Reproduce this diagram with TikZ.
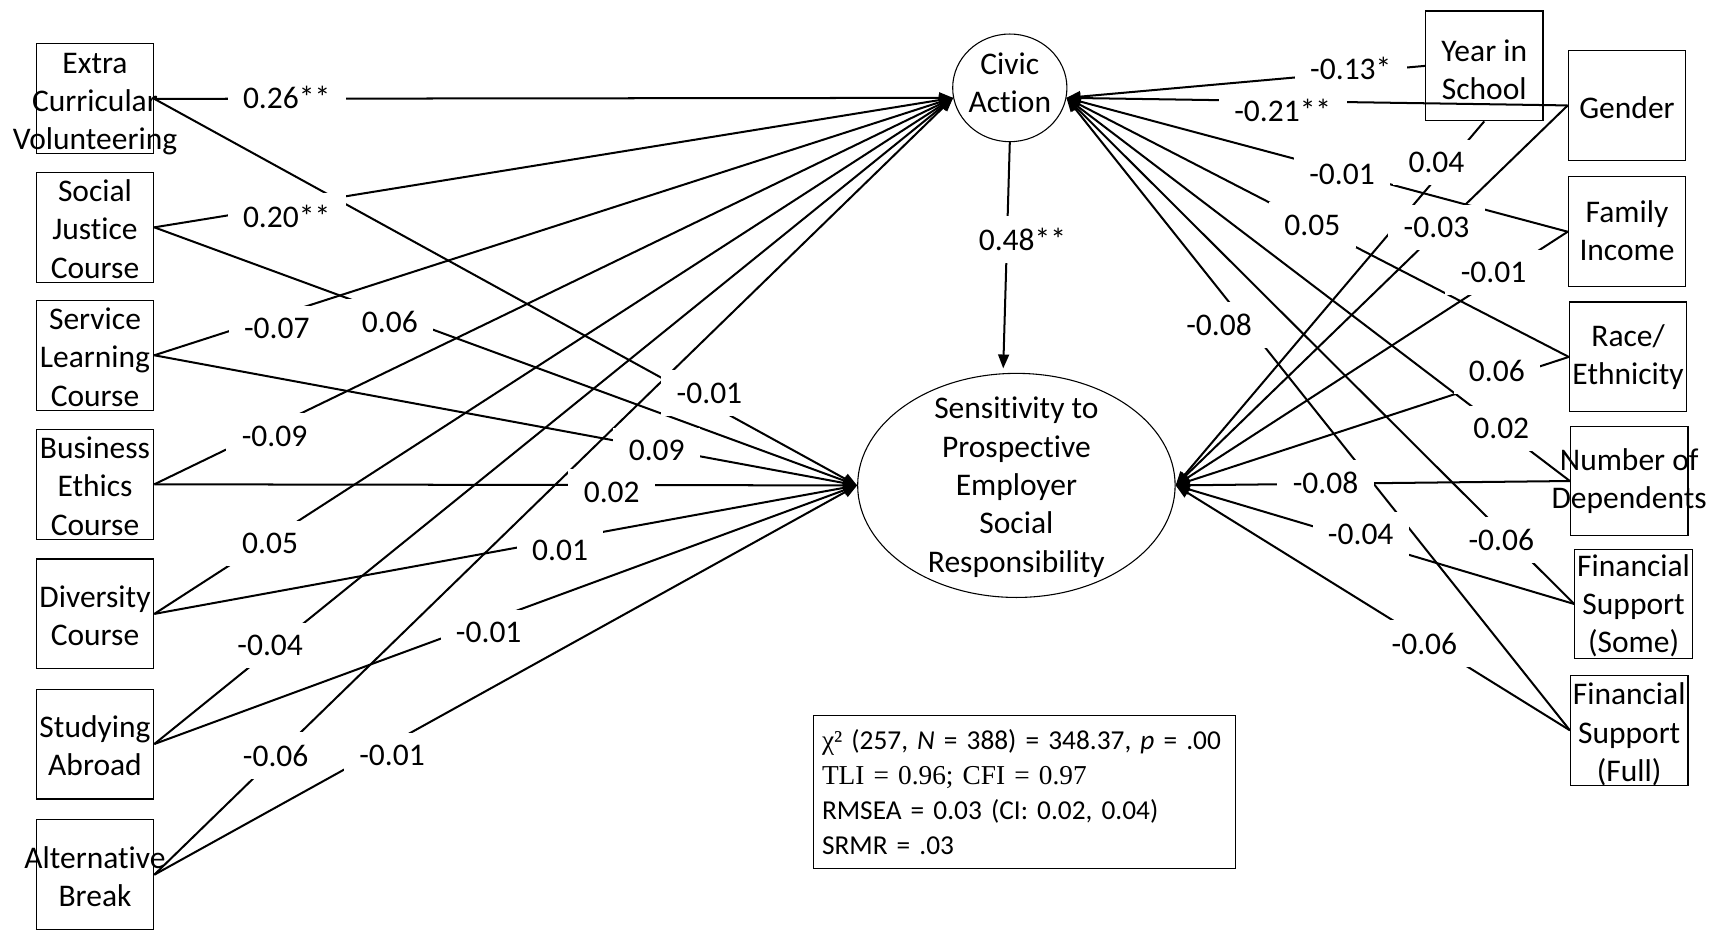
\documentclass[tikz,border=0pt]{standalone}
\usepackage{fontspec}
\setmainfont{Carlito}[Ligatures=NoCommon]
\newfontfamily\timesfont{Liberation Serif}
\usetikzlibrary{arrows.meta,shapes.geometric,calc}

\begin{document}
\begin{tikzpicture}[x=0.025cm,y=-0.025cm,
  font=\fontsize{20.4}{24.9}\selectfont,
  varbox/.style={draw, line width=0.7pt, minimum width=2.675cm, minimum height=2.5cm, inner sep=0pt},
  boxtxt/.style={align=center, inner sep=0pt, yshift=-0.04cm},
  latent/.style={draw, ellipse, line width=0.7pt, inner sep=0pt},
  effect/.style={line width=1.3pt, -{Triangle[length=9pt,width=7pt]}},
  coef/.style={fill=white, inner xsep=10pt, inner ysep=8pt},
]
\useasboundingbox (0,0) rectangle (1568,849);

% exogenous variables, left column
\node[varbox, label={[boxtxt, yshift=-0.08cm]center:Extra\\Curricular\\Volunteering}] (ecv) at (86.5,90) {};
\node[varbox, label={[boxtxt]center:Social\\Justice\\Course}] (sjc) at (86.5,207) {};
\node[varbox, label={[boxtxt]center:Service\\Learning\\Course}] (slc) at (86.5,323.5) {};
\node[varbox, label={[boxtxt]center:Business\\Ethics\\Course}] (bec) at (86.5,441) {};
\node[varbox, label={[boxtxt]center:Diversity\\Course}] (dvc) at (86.5,559) {};
\node[varbox, label={[boxtxt]center:Studying\\Abroad}] (sab) at (86.5,677.5) {};
\node[varbox, label={[boxtxt]center:Alternative\\Break}] (alb) at (86.5,796.5) {};

% control variables, right column
\node[varbox, label={[boxtxt, yshift=-0.05cm]center:Year in\\School}] (yis) at (1351.5,60) {};
\node[varbox, label={[boxtxt]center:Gender}] (gen) at (1481.5,96) {};
\node[varbox, label={[boxtxt, yshift=0.07cm]center:Family\\Income}] (fam) at (1481.5,211) {};
\node[varbox, label={[boxtxt, yshift=0.04cm]center:Race/\\Ethnicity}] (rac) at (1482.5,325) {};
\node[varbox, label={[boxtxt, yshift=0.04cm]center:Number of\\Dependents}] (dep) at (1483.5,438) {};
\node[varbox, label={[boxtxt]center:Financial\\Support\\(Some)}] (fss) at (1487.5,550) {};
\node[varbox, label={[boxtxt, yshift=-0.05cm]center:Financial\\Support\\(Full)}] (fsf) at (1483.5,665) {};

% latent outcomes
\node[latent, minimum width=2.6cm, minimum height=2.45cm,
      label={[boxtxt, yshift=0.15cm]center:Civic\\Action}] (civic) at (919.5,80) {};
\node[latent, minimum width=7.225cm, minimum height=5.1cm,
      label={[boxtxt]center:Sensitivity to\\Prospective\\Employer\\Social\\Responsibility}] (sens) at (925.5,442) {};

\coordinate (cL) at (civic.190);
\coordinate (cR) at (civic.-10);
\coordinate (sL) at (sens.west);
\coordinate (sR) at (sens.east);
\coordinate (sTop) at ($(sens.north)+(-12,-4)$);

% structural paths
\foreach \s in {ecv,sjc,slc,bec,dvc,sab,alb}{
  \draw[effect] (\s.east) -- (cL);
  \draw[effect] (\s.east) -- (sL);
}
\draw[effect] (yis.west) -- (cR);
\draw[effect] (yis.south) -- (sR);
\foreach \s in {gen,fam,rac,dep,fss,fsf}{
  \draw[effect] (\s.west) -- (cR);
  \draw[effect] (\s.west) -- (sR);
}
\draw[effect] (civic.south) -- (sTop);

% path coefficients
\node[coef] (k01) at (261,89) {0.26**};
\node[coef] (k02) at (261,197) {0.20**};
\node[coef] (k03) at (252,299) {-0.07};
\node[coef] (k04) at (250,397) {-0.09};
\node[coef] (k05) at (246,495) {0.05};
\node[coef] (k06) at (246,588) {-0.04};
\node[coef] (k07) at (251,688) {-0.06};
\node[coef] (k08) at (646,358) {-0.01};
\node[coef] (k09) at (355,293) {0.06};
\node[coef] (k10) at (598,410) {0.09};
\node[coef] (k11) at (557,448) {0.02};
\node[coef] (k12) at (510,501) {0.01};
\node[coef] (k13) at (445,576) {-0.01};
\node[coef] (k14) at (357,688) {-0.01};
\node[coef] (k15) at (1230,62) {-0.13*};
\node[coef] (k16) at (1168,101) {-0.21**};
\node[coef] (k17) at (1222,159) {-0.01};
\node[coef] (k18) at (1195,205) {0.05};
\node[coef] (k19) at (1367,390) {0.02};
\node[coef] (k20) at (1367,492) {-0.06};
\node[coef] (k21) at (1110,296) {-0.08};
\node[coef] (k22) at (1308,148) {0.04};
\node[coef] (k23) at (1308,207) {-0.03};
\node[coef] (k24) at (1360,248) {-0.01};
\node[coef] (k25) at (1363,338) {0.06};
\node[coef] (k26) at (1207,440) {-0.08};
\node[coef] (k27) at (1239,487) {-0.04};
\node[coef] (k28) at (1297,586) {-0.06};
\node[coef] (k29) at (931,218) {0.48**};

% model fit
\node[draw, line width=0.7pt, anchor=north west, text width=9.2cm, align=left,
      inner xsep=0.2cm, inner ysep=0.2cm, minimum height=3.475cm,
      font=\fontsize{17.7}{22.7}\selectfont] (fit) at (740,651)
  {{\timesfont χ²} (257, \textit{N} = 388) = 348.37, \textit{p} = .00\\
   {\timesfont TLI = 0.96; CFI = 0.97}\\
   RMSEA = 0.03 (CI: 0.02, 0.04)\\
   SRMR = .03};
\end{tikzpicture}
\end{document}
